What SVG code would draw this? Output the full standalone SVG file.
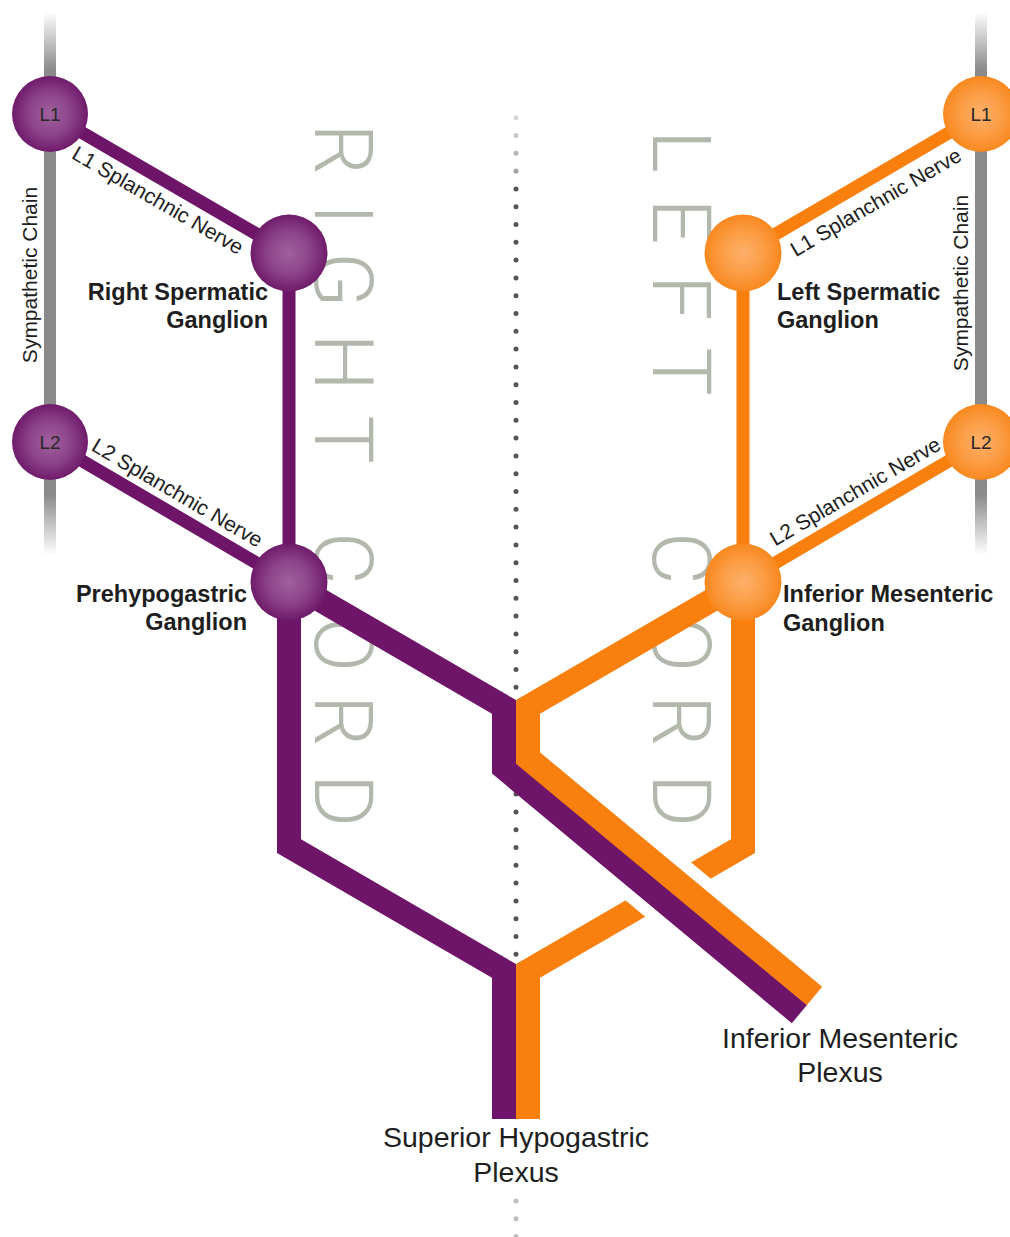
<svg xmlns="http://www.w3.org/2000/svg" width="1010" height="1237" viewBox="0 0 1010 1237">
<style>
.lbl{font-family:"Liberation Sans",Arial,Helvetica,sans-serif;fill:#1e1e1e}
.gang{font-size:23.5px;font-weight:bold}
.nerve{font-size:21px;text-anchor:middle}
.seg{font-size:19px;text-anchor:middle;fill:#2a2a2a}
.plex{font-size:28.5px;text-anchor:middle}
.chain{font-size:21px;text-anchor:middle}
.cord{font-family:Roboto,Lato,"Open Sans","Liberation Sans",sans-serif;font-weight:300;font-size:81px;fill:#b3b8ad}
.pur{stroke:#6e1569;fill:none;stroke-linejoin:miter}
.ora{stroke:#f9800f;fill:none;stroke-linejoin:miter}
.thin{stroke-width:13}
.thick{stroke-width:24}
.nodeP{fill:url(#gradP)}
.nodeO{fill:url(#gradO)}
</style>
<defs>
<radialGradient id="gradP" cx="0.5" cy="0.5" r="0.5">
<stop offset="0" stop-color="#a0619d"/>
<stop offset="0.55" stop-color="#8c4389"/>
<stop offset="1" stop-color="#6f1b6b"/>
</radialGradient>
<radialGradient id="gradO" cx="0.5" cy="0.5" r="0.5">
<stop offset="0" stop-color="#fdb06a"/>
<stop offset="0.55" stop-color="#fb9d45"/>
<stop offset="1" stop-color="#f8881f"/>
</radialGradient>
<linearGradient id="chainG" gradientUnits="userSpaceOnUse" x1="0" y1="12" x2="0" y2="555">
<stop offset="0" stop-color="#8a8a8a" stop-opacity="0"/>
<stop offset="0.107" stop-color="#8a8a8a"/>
<stop offset="0.889" stop-color="#8a8a8a"/>
<stop offset="1" stop-color="#8a8a8a" stop-opacity="0"/>
</linearGradient>
<linearGradient id="dotG" gradientUnits="userSpaceOnUse" x1="0" y1="110" x2="0" y2="190">
<stop offset="0" stop-color="#e0e0e0"/>
<stop offset="0.76" stop-color="#a6a6a6"/>
<stop offset="0.87" stop-color="#555555"/>
<stop offset="1" stop-color="#555555"/>
</linearGradient>
</defs>
<rect width="1010" height="1237" fill="#ffffff"/>

<g id="midline">
<line x1="516" y1="117.7" x2="516" y2="958" stroke="url(#dotG)" stroke-width="5" stroke-linecap="round" stroke-dasharray="0 17.8"/>
<line x1="516" y1="1201" x2="516" y2="1240" stroke="#bdbdbd" stroke-width="5" stroke-linecap="round" stroke-dasharray="0 17.8"/>
</g>

<g id="cord-labels">
<text class="cord" transform="translate(315,0) rotate(90)" x="123.5 203.5 252 333.5 415.5 470 532 617 695 774" y="0">RIGHT CORD</text>
<text class="cord" transform="translate(653,0) rotate(90)" x="130 198.5 275 347.5 400 532 617 695 774" y="0">LEFT CORD</text>
</g>

<g id="connectors">
<line x1="50" y1="12" x2="50" y2="555" stroke="url(#chainG)" stroke-width="12"/>
<line x1="981" y1="12" x2="981" y2="555" stroke="url(#chainG)" stroke-width="12"/>
<line class="pur thin" x1="50" y1="114" x2="289" y2="253"/>
<line class="pur thin" x1="50" y1="442" x2="289" y2="582"/>
<line class="pur thin" x1="289" y1="253" x2="289" y2="582"/>
<line class="ora thin" x1="981" y1="114" x2="743" y2="253"/>
<line class="ora thin" x1="981" y1="442" x2="743" y2="582"/>
<line class="ora thin" x1="743" y1="253" x2="743" y2="582"/>
<polyline class="pur thick" points="289,582 289,846 504,971 504,1119"/>
<polyline class="ora thick" points="743,582 743,846 528,971 528,1119"/>
<line x1="600" y1="832.9" x2="760" y2="965.9" stroke="#ffffff" stroke-width="71"/>
<polyline class="pur thick" points="289,582 504,707 504,768 799.5,1014"/>
<polyline class="ora thick" points="743,582 528,707 528,758 814.5,996"/>
</g>

<g id="chain-labels">
<text class="lbl chain" transform="translate(37,275) rotate(-90)">Sympathetic Chain</text>
<text class="lbl chain" transform="translate(968,283) rotate(-90)">Sympathetic Chain</text>
</g>

<g id="nerve-labels">
<text class="lbl nerve" transform="translate(154.3,206.5) rotate(30.2)">L1 Splanchnic Nerve</text>
<text class="lbl nerve" transform="translate(173.7,498.9) rotate(30.4)">L2 Splanchnic Nerve</text>
<text class="lbl nerve" transform="translate(879.4,208.4) rotate(-30.2)">L1 Splanchnic Nerve</text>
<text class="lbl nerve" transform="translate(858.8,497.5) rotate(-30.4)">L2 Splanchnic Nerve</text>
</g>

<g id="node-right-L1">
<circle class="nodeP" cx="50" cy="114" r="38"/>
<text class="lbl seg" x="50" y="121">L1</text>
</g>
<g id="node-right-L2">
<circle class="nodeP" cx="50" cy="442" r="38"/>
<text class="lbl seg" x="50" y="449">L2</text>
</g>
<g id="node-right-spermatic">
<circle class="nodeP" cx="289" cy="253" r="38.5"/>
<text class="lbl gang" text-anchor="end" x="268" y="300">Right Spermatic</text>
<text class="lbl gang" text-anchor="end" x="268" y="328">Ganglion</text>
</g>
<g id="node-prehypogastric">
<circle class="nodeP" cx="289" cy="582" r="38.5"/>
<text class="lbl gang" text-anchor="end" x="247" y="602">Prehypogastric</text>
<text class="lbl gang" text-anchor="end" x="247" y="630">Ganglion</text>
</g>
<g id="node-left-L1">
<circle class="nodeO" cx="981" cy="114" r="38"/>
<text class="lbl seg" x="981" y="121">L1</text>
</g>
<g id="node-left-L2">
<circle class="nodeO" cx="981" cy="442" r="38"/>
<text class="lbl seg" x="981" y="449">L2</text>
</g>
<g id="node-left-spermatic">
<circle class="nodeO" cx="743" cy="253" r="38.5"/>
<text class="lbl gang" x="777" y="299.5">Left Spermatic</text>
<text class="lbl gang" x="777" y="328">Ganglion</text>
</g>
<g id="node-inferior-mesenteric-ganglion">
<circle class="nodeO" cx="743" cy="582" r="38.5"/>
<text class="lbl gang" x="783" y="602">Inferior Mesenteric</text>
<text class="lbl gang" x="783" y="631">Ganglion</text>
</g>
<g id="node-superior-hypogastric-plexus">
<text class="lbl plex" x="516" y="1147">Superior Hypogastric</text>
<text class="lbl plex" x="516" y="1182">Plexus</text>
</g>
<g id="node-inferior-mesenteric-plexus">
<text class="lbl plex" x="840" y="1048">Inferior Mesenteric</text>
<text class="lbl plex" x="840" y="1082">Plexus</text>
</g>
</svg>
